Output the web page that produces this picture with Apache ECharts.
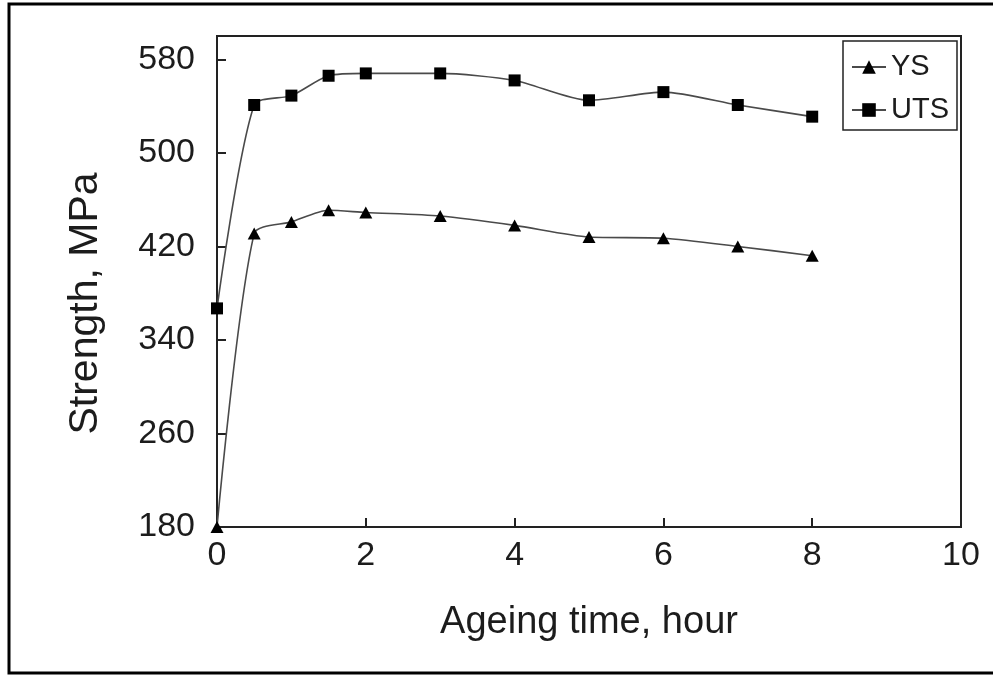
<!DOCTYPE html>
<html>
<head>
<meta charset="utf-8">
<script src="https://cdn.jsdelivr.net/npm/echarts@6/dist/echarts.min.js"></script>
<style>
  html, body { margin: 0; padding: 0; background: #fff; }
  #chart { width: 993px; height: 676px; }
</style>
</head>
<body>
<div id="chart"></div>
<script>
// Ageing time (hours) at which each strength was measured
const ageingHours = [0, 0.5, 1, 1.5, 2, 3, 4, 5, 6, 7, 8];
// Yield strength, MPa
const ysValues = [180, 431, 441, 451, 449, 446, 438, 428, 427, 420, 412];
// Ultimate tensile strength, MPa
const utsValues = [367, 541, 549, 566, 568, 568, 562, 545, 552, 541, 531];
const seriesNames = ['YS', 'UTS'];
// Tick labels
const xTicks = [0, 2, 4, 6, 8, 10];
const yTicks = [180, 260, 340, 420, 500, 580];
const yTop = 600;

const font = '"Liberation Sans", Arial, Helvetica, sans-serif';
const ink = '#1c1c1c';

const chart = echarts.init(document.getElementById('chart'), null, { renderer: 'canvas' });

const toPairs = vals => ageingHours.map((h, i) => [h, vals[i]]);

chart.setOption({
  animation: false,
  backgroundColor: '#fff',
  graphic: [{
    type: 'rect',
    shape: { x: 9, y: 4, width: 1010, height: 669 },
    style: { fill: 'none', stroke: '#000', lineWidth: 3 },
    silent: true,
    z: -1
  }],
  grid: {
    left: 217, right: 32, top: 36, bottom: 149,
    show: true, borderColor: '#222', borderWidth: 2,
    containLabel: false, outerBoundsMode: 'none'
  },
  legend: {
    orient: 'vertical',
    left: 843, top: 41,
    padding: [11, 8, 5, 8],
    itemGap: 13,
    itemWidth: 34, itemHeight: 17,
    borderColor: '#222', borderWidth: 1.5,
    backgroundColor: '#fff',
    textStyle: { fontFamily: font, fontSize: 29, color: ink, lineHeight: 30 },
    data: seriesNames
  },
  xAxis: {
    type: 'value',
    min: xTicks[0], max: xTicks[xTicks.length - 1],
    interval: xTicks[1] - xTicks[0],
    name: 'Ageing time, hour',
    nameLocation: 'middle',
    nameGap: 77,
    nameTextStyle: { fontFamily: font, fontSize: 38, color: ink },
    axisLine: { show: true, lineStyle: { color: '#222', width: 2 } },
    axisTick: { show: true, inside: true, length: 9, lineStyle: { color: '#222', width: 2 } },
    axisLabel: {
      fontFamily: font, fontSize: 34, color: ink, margin: 12,
      formatter: v => (xTicks.includes(v) ? String(v) : '')
    },
    splitLine: { show: false }
  },
  yAxis: {
    type: 'value',
    min: yTicks[0], max: yTop,
    interval: yTicks[1] - yTicks[0],
    name: 'Strength, MPa',
    nameLocation: 'middle',
    nameRotate: 90,
    nameGap: 111,
    nameTextStyle: { fontFamily: font, fontSize: 41, color: ink, padding: [0, 44, 0, 0] },
    axisLine: { show: true, lineStyle: { color: '#222', width: 2 } },
    axisTick: { show: true, inside: true, length: 9, lineStyle: { color: '#222', width: 2 } },
    axisLabel: {
      fontFamily: font, fontSize: 34, color: ink, margin: 22,
      showMaxLabel: false,
      formatter: v => (yTicks.includes(v) ? String(v) : '')
    },
    splitLine: { show: false }
  },
  series: [
    {
      name: seriesNames[0],
      type: 'line',
      data: toPairs(ysValues),
      smooth: 0.25,
      symbol: 'triangle',
      symbolSize: [13, 12],
      clip: false,
      lineStyle: { color: '#4a4a4a', width: 1.6 },
      itemStyle: { color: '#000' }
    },
    {
      name: seriesNames[1],
      type: 'line',
      data: toPairs(utsValues),
      smooth: 0.25,
      symbol: 'rect',
      symbolSize: 12,
      clip: false,
      lineStyle: { color: '#4a4a4a', width: 1.6 },
      itemStyle: { color: '#000' }
    }
  ]
});
</script>
</body>
</html>
